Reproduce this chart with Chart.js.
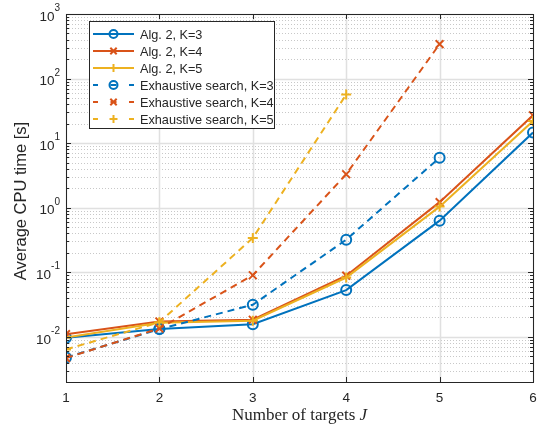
<!DOCTYPE html>
<html><head><meta charset="utf-8">
<script src="https://cdn.jsdelivr.net/npm/chart.js@4.4.0/dist/chart.umd.min.js"></script>
<style>html,body{margin:0;padding:0;background:#fff}canvas{display:block}</style>
</head><body>
<canvas id="c" width="541" height="424"></canvas>
<script>
// Average CPU time versus number of targets J
const targets = [1, 2, 3, 4, 5, 6];
const alg2K3 = [0.0097, 0.0132, 0.0157, 0.053, 0.63, 14.6];
const alg2K4 = [0.0110, 0.0173, 0.0184, 0.0885, 1.22, 27];
const alg2K5 = [0.0098, 0.0166, 0.0178, 0.083, 1.04, 22];
const exhK3 = [0.0048, 0.0132, 0.0314, 0.32, 5.96];
const exhK4 = [0.0047, 0.0135, 0.090, 3.3, 342];
const exhK5 = [0.0064, 0.0168, 0.34, 56.6];
const seriesNames = ['Alg. 2, K=3', 'Alg. 2, K=4', 'Alg. 2, K=5',
  'Exhaustive search, K=3', 'Exhaustive search, K=4', 'Exhaustive search, K=5'];
const xTicks = [1, 2, 3, 4, 5, 6];
const yExponents = [-2, -1, 0, 1, 2, 3];

const BLUE = '#0072BD', ORANGE = '#D95319', YELLOW = '#EDB120';
const AXIS = '#262626';
const DASH = [7, 5];
const CLEAR = 'rgba(0,0,0,0)';

function pts(vals) { return vals.map((v, i) => ({ x: targets[i], y: v })); }

const styles = [
  { color: BLUE, point: 'circle', r: 5, dash: [] },
  { color: ORANGE, point: 'crossRot', r: 5.5, dash: [] },
  { color: YELLOW, point: 'cross', r: 5, dash: [] },
  { color: BLUE, point: 'circle', r: 5, dash: DASH },
  { color: ORANGE, point: 'crossRot', r: 5.5, dash: DASH },
  { color: YELLOW, point: 'cross', r: 5, dash: DASH }
];
const values = [alg2K3, alg2K4, alg2K5, exhK3, exhK4, exhK5];

const datasets = values.map((v, i) => ({
  label: seriesNames[i],
  data: pts(v),
  borderColor: styles[i].color,
  backgroundColor: CLEAR,
  borderWidth: 2,
  borderDash: styles[i].dash,
  pointStyle: styles[i].point,
  pointRadius: styles[i].r,
  pointBorderWidth: 2,
  pointBorderColor: styles[i].color,
  pointBackgroundColor: CLEAR,
  tension: 0,
  order: 5 - i
}));

const FONT = '"Liberation Sans", Arial, sans-serif';
const SERIF = '"Liberation Serif", "Times New Roman", serif';

const gridPlugin = {
  id: 'matlabGrid',
  beforeDatasetsDraw(chart) {
    const { ctx, chartArea: a, scales: { x, y } } = chart;
    ctx.save();
    ctx.lineWidth = 1;
    // minor horizontal grid (dotted)
    ctx.strokeStyle = '#c8c8c8';
    ctx.setLineDash([1, 2]);
    for (let e = -3; e < 3; e++) {
      for (let m = 2; m <= 9; m++) {
        const v = m * Math.pow(10, e);
        if (v < y.min || v > y.max) continue;
        const py = Math.round(y.getPixelForValue(v)) + 0.5;
        ctx.beginPath(); ctx.moveTo(a.left, py); ctx.lineTo(a.right, py); ctx.stroke();
      }
    }
    // major grid
    ctx.setLineDash([]);
    ctx.strokeStyle = '#e0e0e0';
    ctx.lineWidth = 1.5;
    yExponents.forEach(e => {
      const py = Math.round(y.getPixelForValue(Math.pow(10, e))) + 0.5;
      ctx.beginPath(); ctx.moveTo(a.left, py); ctx.lineTo(a.right, py); ctx.stroke();
    });
    xTicks.forEach(t => {
      const px = Math.round(x.getPixelForValue(t)) + 0.5;
      ctx.beginPath(); ctx.moveTo(px, a.top); ctx.lineTo(px, a.bottom); ctx.stroke();
    });
    ctx.restore();
  },
  afterDatasetsDraw(chart) {
    const { ctx, chartArea: a, scales: { x, y } } = chart;
    ctx.save();
    ctx.strokeStyle = AXIS;
    ctx.lineWidth = 1;
    // tick marks pointing inward on all four sides
    for (let e = -3; e < 3; e++) {
      for (let m = 2; m <= 9; m++) {
        const v = m * Math.pow(10, e);
        if (v < y.min || v > y.max) continue;
        const py = Math.round(y.getPixelForValue(v)) + 0.5;
        ctx.beginPath();
        ctx.moveTo(a.left, py); ctx.lineTo(a.left + 3, py);
        ctx.moveTo(a.right, py); ctx.lineTo(a.right - 3, py);
        ctx.stroke();
      }
    }
    yExponents.forEach(e => {
      const py = Math.round(y.getPixelForValue(Math.pow(10, e))) + 0.5;
      ctx.beginPath();
      ctx.moveTo(a.left, py); ctx.lineTo(a.left + 5, py);
      ctx.moveTo(a.right, py); ctx.lineTo(a.right - 5, py);
      ctx.stroke();
    });
    xTicks.forEach(t => {
      const px = Math.round(x.getPixelForValue(t)) + 0.5;
      ctx.beginPath();
      ctx.moveTo(px, a.bottom); ctx.lineTo(px, a.bottom - 5);
      ctx.moveTo(px, a.top); ctx.lineTo(px, a.top + 5);
      ctx.stroke();
    });
    ctx.strokeRect(Math.round(a.left) + 0.5, Math.round(a.top) + 0.5,
      Math.round(a.right - a.left), Math.round(a.bottom - a.top));

    // tick labels
    ctx.fillStyle = AXIS;
    ctx.font = '13.5px ' + FONT;
    ctx.textAlign = 'center';
    ctx.textBaseline = 'middle';
    xTicks.forEach(t => ctx.fillText(String(t), x.getPixelForValue(t), a.bottom + 16));
    yExponents.forEach(e => {
      const py = y.getPixelForValue(Math.pow(10, e));
      const exp = String(e);
      ctx.font = '10px ' + FONT;
      const ew = ctx.measureText(exp).width;
      const right = a.left - 6;
      ctx.textAlign = 'left';
      ctx.textBaseline = 'alphabetic';
      ctx.fillText(exp, right - ew, py - 3);
      ctx.font = '13.5px ' + FONT;
      ctx.textAlign = 'right';
      ctx.textBaseline = 'middle';
      ctx.fillText('10', right - ew, py + 3);
    });

    // axis titles
    ctx.font = '16.5px ' + FONT;
    ctx.textAlign = 'center';
    ctx.textBaseline = 'middle';
    ctx.save();
    ctx.translate(21, 201);
    ctx.rotate(-Math.PI / 2);
    ctx.fillText('Average CPU time [s]', 0, 0);
    ctx.restore();

    const t1 = 'Number of targets ';
    ctx.font = '17px ' + SERIF;
    const w1 = ctx.measureText(t1).width;
    ctx.font = 'italic 17px ' + SERIF;
    const w2 = ctx.measureText('J').width;
    const sx = (a.left + a.right) / 2 - (w1 + w2) / 2;
    ctx.textAlign = 'left';
    ctx.font = '17px ' + SERIF;
    ctx.fillText(t1, sx, 416);
    ctx.font = 'italic 17px ' + SERIF;
    ctx.fillText('J', sx + w1, 416);
    ctx.restore();
  },
  afterDraw(chart) {
    // legend box
    const { ctx } = chart;
    ctx.save();
    const bx = 89.5, by = 21.5, bw = 185, bh = 107;
    ctx.fillStyle = '#fff';
    ctx.fillRect(bx, by, bw, bh);
    ctx.strokeStyle = AXIS;
    ctx.lineWidth = 1;
    ctx.strokeRect(bx, by, bw, bh);
    const x0 = 93, x1 = 134, xm = 113.5;
    seriesNames.forEach((name, i) => {
      const yy = 34 + i * 17;
      const s = styles[i];
      ctx.strokeStyle = s.color;
      ctx.lineWidth = 2;
      ctx.setLineDash([]);
      ctx.beginPath();
      if (s.dash.length) {
        ctx.moveTo(x0, yy); ctx.lineTo(x0 + 5, yy);
        ctx.moveTo(xm - 3, yy); ctx.lineTo(xm + 3, yy);
        ctx.moveTo(x1 - 5, yy); ctx.lineTo(x1, yy);
      } else {
        ctx.moveTo(x0, yy); ctx.lineTo(x1, yy);
      }
      ctx.stroke();
      ctx.fillStyle = CLEAR;
      Chart.helpers.drawPoint(ctx, {
        pointStyle: s.point, radius: s.r - 1, borderWidth: 2
      }, xm, yy);
      ctx.fillStyle = AXIS;
      ctx.font = '12.7px ' + FONT;
      ctx.textAlign = 'left';
      ctx.textBaseline = 'middle';
      ctx.fillText(name, 140, yy + 1);
    });
    ctx.restore();
  }
};

new Chart(document.getElementById('c'), {
  type: 'line',
  data: { datasets },
  options: {
    responsive: false,
    animation: false,
    events: [],
    layout: { padding: { left: 66, right: 8, top: 14, bottom: 42 } },
    plugins: { legend: { display: false }, tooltip: { enabled: false } },
    scales: {
      x: { type: 'linear', min: 1, max: 6, display: false },
      y: { type: 'logarithmic', min: 0.002, max: 1000, display: false }
    }
  },
  plugins: [gridPlugin]
});
</script>
</body></html>
